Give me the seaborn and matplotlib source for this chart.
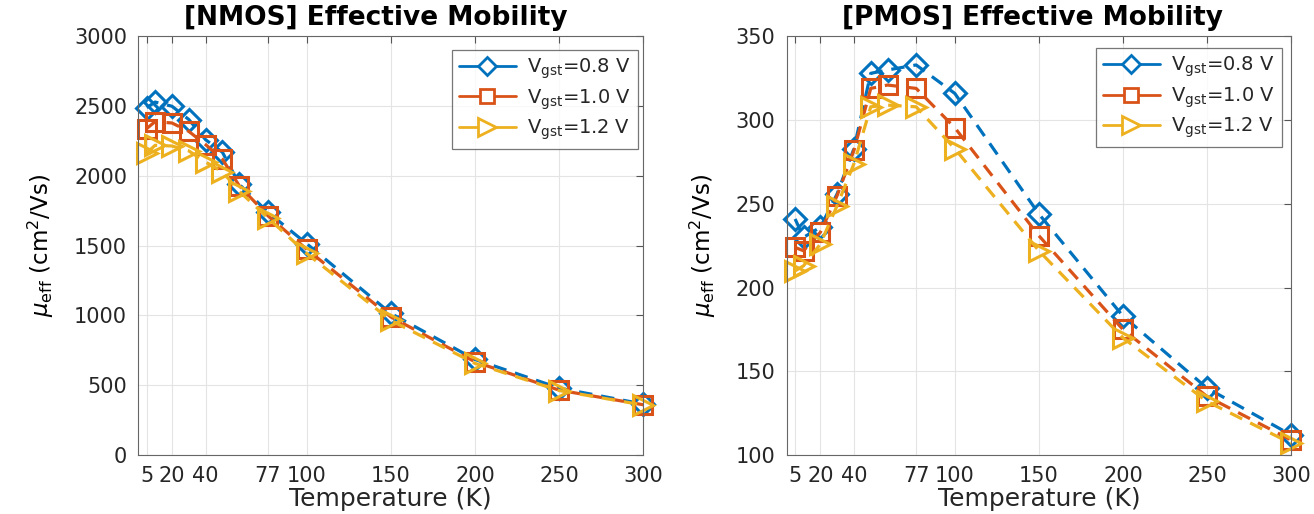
import matplotlib
matplotlib.use("Agg")
import matplotlib.pyplot as plt
import seaborn as sns
from matplotlib.lines import Line2D

# ---------------- data ----------------
temperature = [5, 10, 20, 30, 40, 50, 60, 77, 100, 150, 200, 250, 300]

nmos_vgst_08 = [2490, 2530, 2500, 2405, 2260, 2170, 1940, 1740, 1515, 1015, 685, 480, 365]
nmos_vgst_10 = [2340, 2390, 2380, 2320, 2225, 2120, 1930, 1715, 1475, 990, 668, 465, 360]
nmos_vgst_12 = [2165, 2220, 2215, 2180, 2100, 2030, 1890, 1700, 1445, 965, 657, 462, 358]

pmos_vgst_08 = [241, 230, 236, 256, 283, 328, 330, 333, 316, 244, 183, 140, 112]
pmos_vgst_10 = [224, 222, 233, 255, 282, 319, 321, 319, 295.5, 231, 175, 135, 109]
pmos_vgst_12 = [210, 213, 226, 249, 274, 308, 309, 308, 283, 222, 170, 132, 107]

xticks = [5, 20, 40, 77, 100, 150, 200, 250, 300]
nmos_yticks = [0, 500, 1000, 1500, 2000, 2500, 3000]
pmos_yticks = [100, 150, 200, 250, 300, 350]

series_labels = [r"V$_{\rm gst}$=0.8 V", r"V$_{\rm gst}$=1.0 V", r"V$_{\rm gst}$=1.2 V"]
titles = ["[NMOS] Effective Mobility", "[PMOS] Effective Mobility"]
xlabel = "Temperature (K)"
ylabel = r"$\mu_{\rm eff}$ (cm$^2$/Vs)"

# ---------------- style ----------------
colors = ["#0072BD", "#D95319", "#EDB120"]
markers = ["D", "s", ">"]
msizes = [11.5, 13.0, 15.0]
ink = "#262626"

sns.set_style("white")
plt.rcParams["font.family"] = ["DejaVu Sans"]
plt.rcParams["mathtext.fontset"] = "dejavusans"

fig = plt.figure(figsize=(13.14, 5.14), dpi=100)
ax_l = fig.add_axes([0.10525, 0.11479, 0.38432, 0.81420])
ax_r = fig.add_axes([0.59871, 0.11479, 0.38379, 0.81420])

panels = [
    (ax_l, [nmos_vgst_08, nmos_vgst_10, nmos_vgst_12], nmos_yticks, (0, 3000), 0.471, (0.9895, 0.968)),
    (ax_r, [pmos_vgst_08, pmos_vgst_10, pmos_vgst_12], pmos_yticks, (100, 350), 0.488, (0.982, 0.9725)),
]

for ax, ys, yt, ylim, tx, lpos in panels:
    for y, c, m, ms in zip(ys, colors, markers, msizes):
        sns.lineplot(x=temperature, y=y, ax=ax, color=c, marker=m, markersize=ms,
                     markerfacecolor="none", markeredgecolor=c, markeredgewidth=2.2,
                     linewidth=2.3, linestyle=(0, (4.2, 2.8)), legend=False)
    for ln in ax.lines:
        ln.set_clip_on(False)
    ax.set_xlim(0, 300)
    ax.set_ylim(*ylim)
    ax.set_xticks(xticks)
    ax.set_xticklabels([str(v) for v in xticks])
    ax.set_yticks(yt)
    ax.set_yticklabels([str(v) for v in yt])
    ax.grid(True, color="#e4e4e4", linewidth=0.8)
    ax.set_axisbelow(True)
    for sp in ax.spines.values():
        sp.set_visible(True)
        sp.set_color("#666666")
        sp.set_linewidth(0.8)
    ax.tick_params(direction="in", top=True, right=True, length=5, width=0.8,
                   color="#555555", labelcolor=ink, labelsize=15, pad=8)
    ax.set_xlabel(xlabel, fontsize=18, color=ink, labelpad=1)
    ax.set_ylabel(ylabel, fontsize=16.5, color="black", labelpad=13)
    ax.set_title(titles[0] if ax is ax_l else titles[1], fontsize=19, fontweight="bold",
                 color="black", x=tx, pad=8)
    handles = [Line2D([0], [0], color=c, marker=m, markersize=ms * 0.82, markerfacecolor="white",
                      markeredgecolor=c, markeredgewidth=2.0, linewidth=2.0)
               for c, m, ms in zip(colors, markers, msizes)]
    leg = ax.legend(handles, series_labels, loc="upper right", bbox_to_anchor=lpos,
                    borderaxespad=0, fontsize=14, frameon=True, fancybox=False,
                    handlelength=2.9, handletextpad=0.6, labelspacing=0.3, borderpad=0.35)
    leg.get_frame().set_edgecolor("#555555")
    leg.get_frame().set_linewidth(0.9)
    for t in leg.get_texts():
        t.set_color(ink)

fig.savefig("out.png", dpi=100)
